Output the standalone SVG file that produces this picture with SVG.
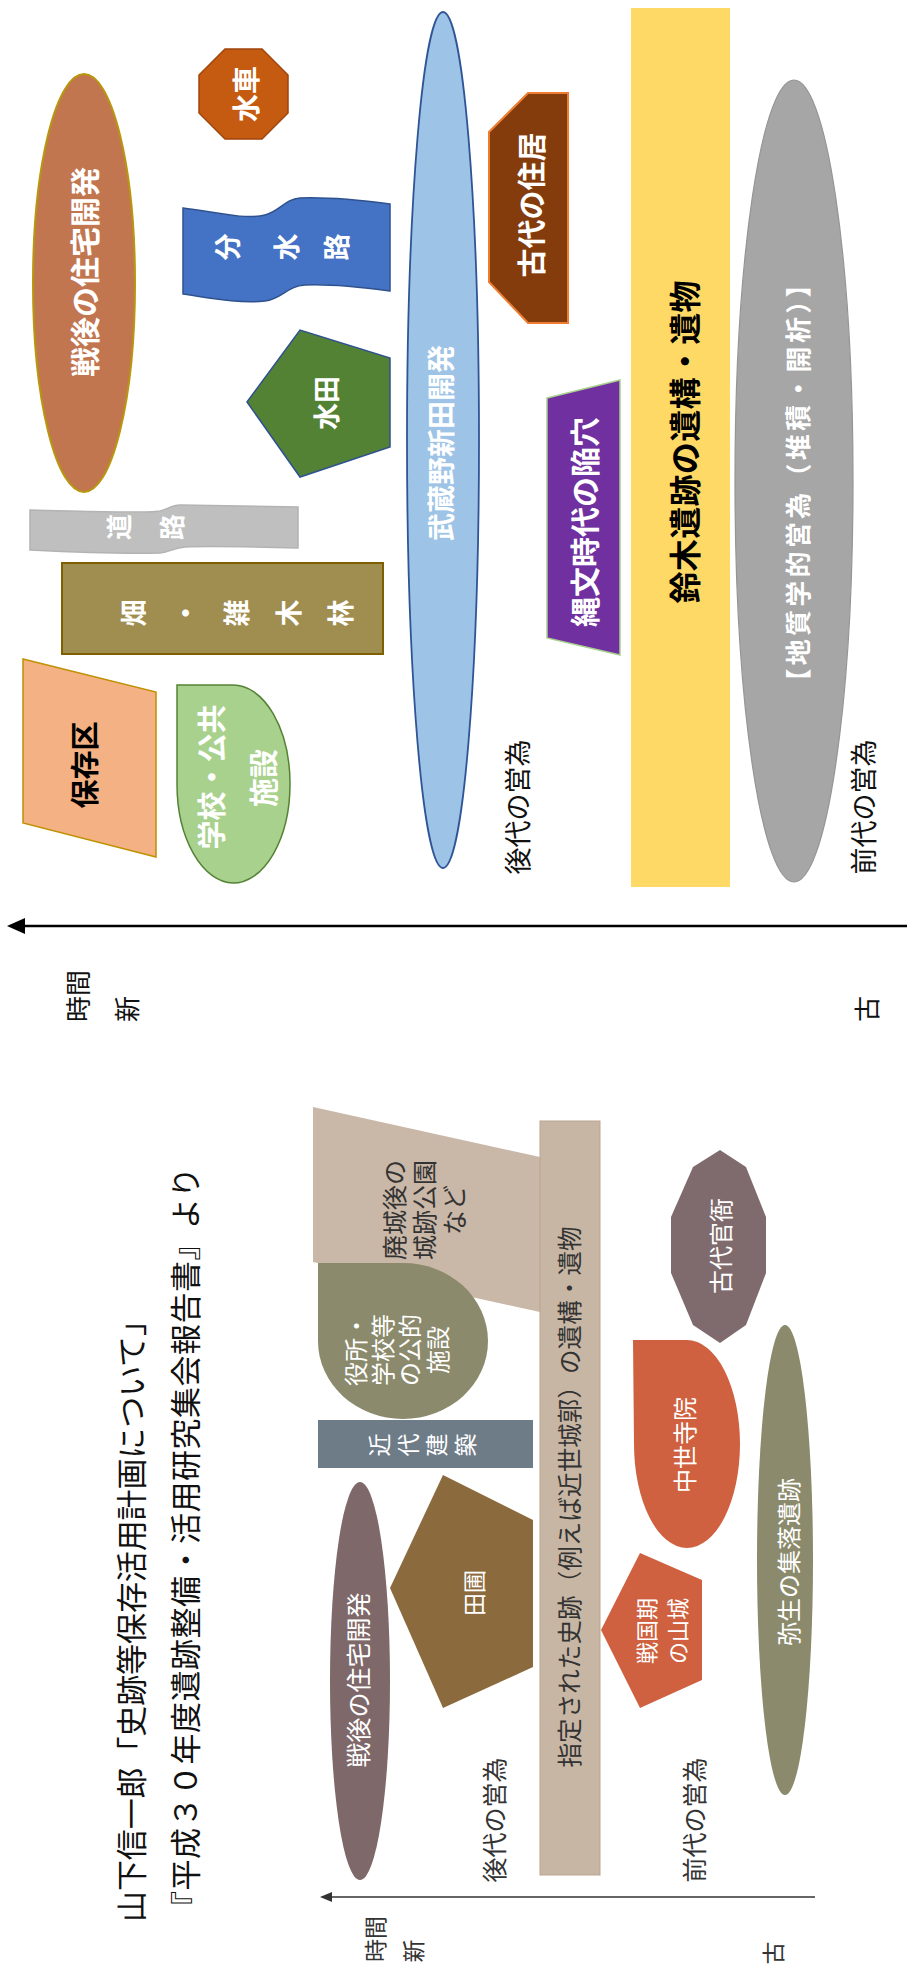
<svg xmlns="http://www.w3.org/2000/svg" width="907" height="1977" viewBox="0 0 907 1977">
<style>
text{font-family:"Noto Sans CJK JP","Noto Sans",sans-serif;text-anchor:middle;dominant-baseline:central}
.w{fill:#fff;font-weight:bold}
.k{fill:#000;font-weight:bold}
.n{fill:#111;font-weight:normal}
.lw{fill:#fff;font-weight:normal}
.ld{fill:#333;font-weight:normal}
</style>
<rect x="0" y="0" width="907" height="1977" fill="#fff"/>

<!-- ===== Upper diagram ===== -->
<g id="connectors">
  <line x1="20" y1="926" x2="907" y2="926" stroke="#000" stroke-width="2.5"/>
  <polygon points="7,926 25,918 25,934" fill="#000"/>
  <line x1="328" y1="1897" x2="815" y2="1897" stroke="#333" stroke-width="1.6"/>
  <polygon points="320,1897 332,1892 332,1902" fill="#333"/>
</g>

<g id="n-sengo">
  <ellipse cx="84" cy="283" rx="51" ry="209" fill="#c27650" stroke="#b8960e" stroke-width="2"/>
  <text class="w" x="83" y="272" font-size="30" transform="rotate(-90 83 272)">戦後の住宅開発</text>
</g>
<g id="n-suisha">
  <polygon points="288,75 288,113 262,139 225,139 199,113 199,75 225,49 262,49" fill="#c55a11" stroke="#a0460b" stroke-width="1.5"/>
  <text class="w" x="245" y="94" font-size="28" transform="rotate(-90 245 94)">水車</text>
</g>
<g id="n-bunsuiro">
  <path d="M183,208 C215,212 245,220 265,215 C280,211 285,199 300,198 C330,197 360,200 390,204 L390,291 C360,287 330,284 305,285 C287,286 282,299 265,301 C240,304 210,298 183,294 Z" fill="#4472c4" stroke="#2f528f" stroke-width="1.5"/>
  <text class="w" x="226" y="247" font-size="27" transform="rotate(-90 226 247)">分</text>
  <text class="w" x="285" y="247" font-size="27" transform="rotate(-90 285 247)">水</text>
  <text class="w" x="335" y="247" font-size="27" transform="rotate(-90 335 247)">路</text>
</g>
<g id="n-suiden">
  <polygon points="247,402 300,330 390,358 390,447 300,477" fill="#548235" stroke="#2f528f" stroke-width="1.5"/>
  <text class="w" x="325" y="403" font-size="27" transform="rotate(-90 325 403)">水田</text>
</g>
<g id="n-musashino">
  <ellipse cx="443" cy="440" rx="36" ry="428" fill="#9dc3e6" stroke="#2f5597" stroke-width="1.8"/>
  <text class="w" x="440" y="443" font-size="28" transform="rotate(-90 440 443)">武蔵野新田開発</text>
</g>
<g id="n-kodai-jukyo">
  <polygon points="528,93 568,93 568,323 528,323 489,282 489,132" fill="#843c0c" stroke="#ed7d31" stroke-width="2"/>
  <text class="w" x="530" y="205" font-size="29" transform="rotate(-90 530 205)">古代の住居</text>
</g>
<g id="n-jomon">
  <polygon points="547,398 620,380 620,655 547,638" fill="#7030a0" stroke="#a9d18e" stroke-width="1.5"/>
  <text class="w" x="583" y="522" font-size="30" transform="rotate(-90 583 522)">縄文時代の陥穴</text>
</g>
<g id="n-suzuki">
  <rect x="631" y="8" width="99" height="879" fill="#ffd966"/>
  <text class="k" x="683" y="442" font-size="32" textLength="323" lengthAdjust="spacing" transform="rotate(-90 683 442)">鈴木遺跡の遺構・遺物</text>
</g>
<g id="n-chishitsu">
  <ellipse cx="794" cy="481" rx="59" ry="401" fill="#a6a6a6" stroke="#959595" stroke-width="1.2"/>
  <text class="w" x="796" y="483" font-size="26" textLength="423" lengthAdjust="spacing" transform="rotate(-90 796 483)">【地質学的営為（堆積・開析）】</text>
</g>
<g id="n-doro">
  <path d="M30,510 C80,511 140,514 160,511 C168,509 172,505 180,505 L298,507 L298,548 C260,547 210,546 185,547 C172,548 168,553 160,553 C120,554 70,552 30,550 Z" fill="#bfbfbf" stroke="#b3b3b3" stroke-width="1.5"/>
  <text class="w" x="117" y="527" font-size="26" transform="rotate(-90 117 527)">道</text>
  <text class="w" x="170" y="527" font-size="26" transform="rotate(-90 170 527)">路</text>
</g>
<g id="n-hatake">
  <rect x="62" y="563" width="321" height="91" fill="#a08d50" stroke="#7f6000" stroke-width="2"/>
  <text class="w" x="132" y="613" font-size="27" transform="rotate(-90 132 613)">畑</text>
  <text class="w" x="184" y="613" font-size="27" transform="rotate(-90 184 613)">・</text>
  <text class="w" x="235" y="613" font-size="27" transform="rotate(-90 235 613)">雑</text>
  <text class="w" x="287" y="613" font-size="27" transform="rotate(-90 287 613)">木</text>
  <text class="w" x="339" y="613" font-size="27" transform="rotate(-90 339 613)">林</text>
</g>
<g id="n-hozonku">
  <polygon points="23,659 156,692 156,857 23,823" fill="#f4b183" stroke="#bf9000" stroke-width="1.5"/>
  <text class="k" x="83" y="765" font-size="29" transform="rotate(-90 83 765)">保存区</text>
</g>
<g id="n-gakko">
  <path d="M177,685 L233,685 A57,99 0 0 1 290,784 A57,99 0 0 1 233,883 A57,99 0 0 1 177,784 Z" fill="#a9d18e" stroke="#548235" stroke-width="1.5"/>
  <text class="w" x="210" y="777" font-size="29" transform="rotate(-90 210 777)">学校・公共</text>
  <text class="w" x="262" y="778" font-size="29" transform="rotate(-90 262 778)">施設</text>
</g>
<g id="labels-upper">
  <text class="n" x="516" y="807" font-size="27" transform="rotate(-90 516 807)">後代の営為</text>
  <text class="n" x="862" y="807" font-size="27" transform="rotate(-90 862 807)">前代の営為</text>
  <text class="n" x="76" y="996" font-size="26" transform="rotate(-90 76 996)">時間</text>
  <text class="n" x="125" y="1009" font-size="26" transform="rotate(-90 125 1009)">新</text>
  <text class="n" x="865" y="1009" font-size="26" transform="rotate(-90 865 1009)">古</text>
</g>

<!-- ===== Lower diagram ===== -->
<g id="title">
  <text class="n" x="129" y="1922" font-size="31" style="text-anchor:start" textLength="617" lengthAdjust="spacing" transform="rotate(-90 129 1922)">山下信一郎「史跡等保存活用計画について」</text>
  <text class="n" x="183" y="1922" font-size="31" style="text-anchor:start" textLength="755" lengthAdjust="spacing" transform="rotate(-90 183 1922)">『平成３０年度遺跡整備・活用研究集会報告書』より</text>
</g>
<g id="m-haijo">
  <polygon points="313,1107 540,1157 540,1312 313,1262" fill="#c9b7a7"/>
  <text class="ld" x="393" y="1210" font-size="25" transform="rotate(-90 393 1210)">廃城後の</text>
  <text class="ld" x="423" y="1210" font-size="25" transform="rotate(-90 423 1210)">城跡公園</text>
  <text class="ld" x="453" y="1210" font-size="25" transform="rotate(-90 453 1210)">など</text>
</g>
<g id="m-yakusho">
  <path d="M318,1263 L403,1263 A85,78 0 0 1 488,1341 A85,78 0 0 1 403,1419 A85,78 0 0 1 318,1341 Z" fill="#8b8a6c"/>
  <text class="lw" x="354" y="1350" font-size="24" transform="rotate(-90 354 1350)">役所・</text>
  <text class="lw" x="381" y="1350" font-size="24" transform="rotate(-90 381 1350)">学校等</text>
  <text class="lw" x="408" y="1350" font-size="24" transform="rotate(-90 408 1350)">の公的</text>
  <text class="lw" x="436" y="1350" font-size="24" transform="rotate(-90 436 1350)">施設</text>
</g>
<g id="m-kindai">
  <rect x="318" y="1420" width="215" height="48" fill="#6e7c88"/>
  <text class="lw" x="378" y="1445" font-size="23" transform="rotate(-90 378 1445)">近</text>
  <text class="lw" x="407" y="1445" font-size="23" transform="rotate(-90 407 1445)">代</text>
  <text class="lw" x="435" y="1445" font-size="23" transform="rotate(-90 435 1445)">建</text>
  <text class="lw" x="464" y="1445" font-size="23" transform="rotate(-90 464 1445)">築</text>
</g>
<g id="m-sengo">
  <ellipse cx="360" cy="1681" rx="30" ry="199" fill="#7e6869"/>
  <text class="lw" x="357" y="1680" font-size="25" transform="rotate(-90 357 1680)">戦後の住宅開発</text>
</g>
<g id="m-tanbo">
  <polygon points="443,1475 533,1520 533,1667 443,1708 390,1588" fill="#8b6b3e"/>
  <text class="lw" x="473" y="1593" font-size="23" transform="rotate(-90 473 1593)">田圃</text>
</g>
<g id="m-shiseki">
  <rect x="540" y="1121" width="60" height="754" fill="#c7b6a4" stroke="#bca58f" stroke-width="1"/>
  <text class="ld" x="568" y="1497" font-size="24.5" textLength="541" lengthAdjust="spacing" transform="rotate(-90 568 1497)">指定された史跡（例えば近世城郭）の遺構・遺物</text>
</g>
<g id="m-kodai-kanga">
  <polygon points="720,1150 746,1167 766,1217 766,1273 746,1325 720,1343 693,1325 671,1273 671,1217 693,1167" fill="#7f6b6d"/>
  <text class="lw" x="719" y="1246" font-size="24" transform="rotate(-90 719 1246)">古代官衙</text>
</g>
<g id="m-chusei">
  <path d="M633,1340 L687,1340 A53,104 0 0 1 740,1444 A53,104 0 0 1 687,1548 A53,104 0 0 1 634,1444 Z" fill="#cf6140"/>
  <text class="lw" x="683" y="1445" font-size="24" transform="rotate(-90 683 1445)">中世寺院</text>
</g>
<g id="m-sengokuki">
  <polygon points="640,1553 702,1580 702,1680 640,1708 601,1630" fill="#cf6140"/>
  <text class="lw" x="645" y="1631" font-size="22" transform="rotate(-90 645 1631)">戦国期</text>
  <text class="lw" x="676" y="1631" font-size="22" transform="rotate(-90 676 1631)">の山城</text>
</g>
<g id="m-yayoi">
  <ellipse cx="785" cy="1560" rx="28" ry="235" fill="#8b8a6c"/>
  <text class="lw" x="787" y="1562" font-size="24" transform="rotate(-90 787 1562)">弥生の集落遺跡</text>
</g>
<g id="labels-lower">
  <text class="ld" x="493" y="1820" font-size="25" transform="rotate(-90 493 1820)">後代の営為</text>
  <text class="ld" x="693" y="1820" font-size="25" transform="rotate(-90 693 1820)">前代の営為</text>
  <text class="ld" x="374" y="1939" font-size="23" transform="rotate(-90 374 1939)">時間</text>
  <text class="ld" x="412" y="1951" font-size="23" transform="rotate(-90 412 1951)">新</text>
  <text class="ld" x="772" y="1953" font-size="23" transform="rotate(-90 772 1953)">古</text>
</g>
</svg>
